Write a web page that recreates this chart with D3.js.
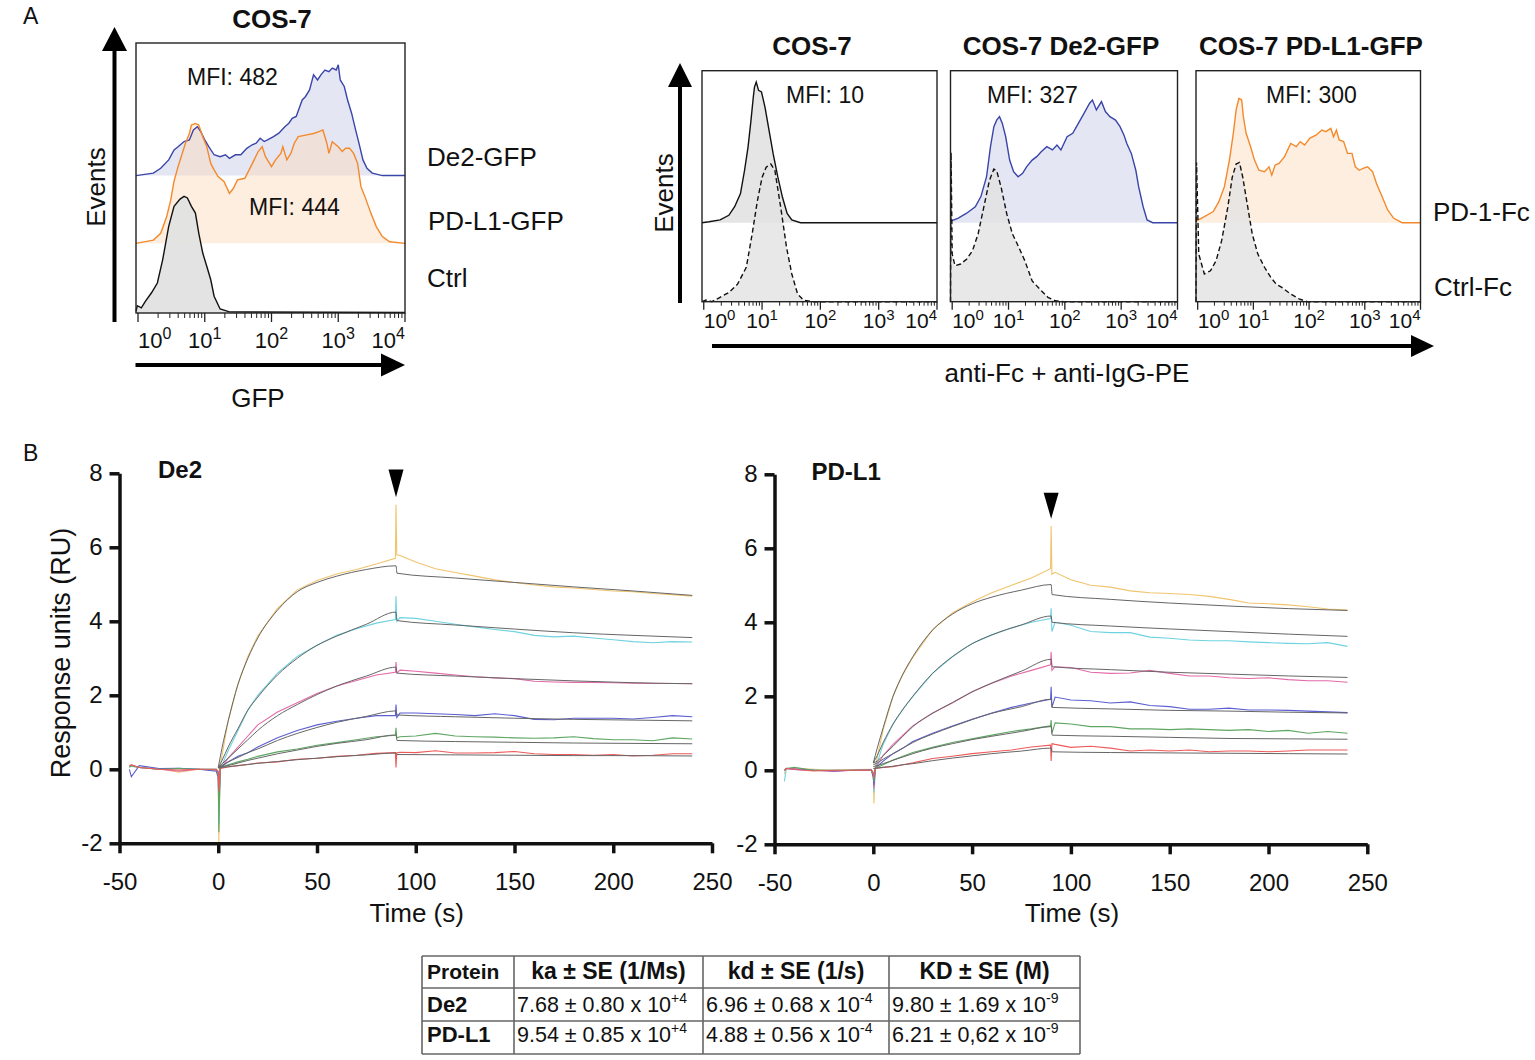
<!DOCTYPE html>
<html lang="en">
<head>
<meta charset="UTF-8">
<title>COS-7 binding figure</title>
<script src="https://d3js.org/d3.v7.min.js"></script>
<style>
body { margin: 0; background: #fff; }
svg text { font-family: "Liberation Sans", Arial, sans-serif; fill: #111; }
</style>
</head>
<body>
<svg id="fig" width="1535" height="1060"></svg>
<script>
// ---------------- data ----------------
// flow histograms: [log10 fluorescence, events (% of box height)]
var gfpDe2 = [[-0.03,0],[0.23,0.9],[0.34,2.7],[0.46,5.8],[0.54,9.5],[0.6,10.7],[0.69,12.6],[0.77,13.2],[0.83,16.9],[0.89,18.1],[0.94,16.3],[1.0,13.2],[1.06,10.7],[1.14,7.7],[1.23,7.0],[1.31,7.7],[1.37,6.4],[1.46,7.7],[1.54,7.7],[1.63,10.1],[1.71,11.4],[1.77,12],[1.83,13.8],[1.89,12.6],[1.94,13.2],[2.03,14.4],[2.11,15.7],[2.2,18.1],[2.26,19.4],[2.31,21.2],[2.37,21.9],[2.46,28],[2.51,29.3],[2.57,31.7],[2.63,37.3],[2.69,35.4],[2.74,37.3],[2.8,39.1],[2.86,38.5],[2.91,39.8],[2.97,39.1],[3.0,41],[3.03,35.4],[3.09,33],[3.14,28],[3.2,23.1],[3.26,16.9],[3.31,12],[3.37,5.8],[3.43,2.7],[3.51,0.9],[3.66,0],[4.0,0]];
var gfpPdl1 = [[-0.03,0],[0.23,1.2],[0.34,3.7],[0.43,9.9],[0.49,16],[0.54,23],[0.6,28.4],[0.71,37],[0.77,40.7],[0.8,43.8],[0.86,44.4],[0.91,43.8],[0.97,39.5],[1.03,35.8],[1.09,29.6],[1.14,27.2],[1.2,24.7],[1.29,22.8],[1.37,18.5],[1.43,20.4],[1.49,23.5],[1.6,24.1],[1.69,28.4],[1.74,30.9],[1.8,34],[1.86,35.8],[1.91,32.1],[2.0,28.4],[2.06,30.9],[2.14,33.3],[2.17,35.8],[2.23,30.9],[2.29,33.3],[2.34,37],[2.4,39.5],[2.51,40.1],[2.63,40.7],[2.71,41.4],[2.77,42],[2.83,37],[2.86,33.3],[2.91,37.6],[3.0,35.8],[3.06,34],[3.11,35.2],[3.17,35.2],[3.23,33.3],[3.29,29.6],[3.34,21],[3.4,17.3],[3.49,11.1],[3.57,6.2],[3.66,2.5],[3.77,0.6],[4.0,0]];
var gfpCtrl = [[-0.03,0.6],[-0.01,2.7],[0.05,1.9],[0.11,4.3],[0.2,7.4],[0.29,11.1],[0.37,19.8],[0.46,32.1],[0.54,39.5],[0.63,42.2],[0.69,43.2],[0.74,42.6],[0.8,39.5],[0.86,37],[0.91,29.6],[0.97,22.2],[1.03,17.3],[1.09,12.3],[1.14,6.2],[1.23,1.5],[1.37,0.4],[4.0,0.2]];

var fcCos7Pd1 = [[-0.03,0],[0.09,0.4],[0.28,1.2],[0.43,3.2],[0.53,6.9],[0.63,12.6],[0.7,22.7],[0.76,32.8],[0.81,44.3],[0.85,54.4],[0.87,58.7],[0.9,60.9],[0.94,57.3],[0.99,56.6],[1.05,50],[1.12,40],[1.19,29.9],[1.27,19.8],[1.35,11],[1.43,4],[1.51,1.2],[1.66,0],[4.0,0]];
var fcCos7Ctrl = [[-0.03,0],[0.04,0.7],[0.14,0],[0.28,1.9],[0.43,4],[0.58,7.6],[0.73,14.9],[0.83,29.3],[0.92,43.7],[1.0,53.8],[1.07,58.2],[1.15,59.6],[1.22,56.8],[1.32,40.8],[1.42,23.5],[1.51,12],[1.61,3.3],[1.71,0.7],[1.86,0],[4.0,0]];
var fcDe2Pd1 = [[-0.03,0.7],[0.1,1.9],[0.25,4],[0.41,6.9],[0.51,11.3],[0.61,19.9],[0.68,32.9],[0.74,41.6],[0.79,44.4],[0.84,45.9],[0.89,43],[0.95,37.2],[1.02,27.1],[1.09,22.1],[1.17,19.9],[1.25,21.4],[1.32,24.2],[1.42,27.1],[1.5,28.6],[1.58,30.7],[1.68,32.9],[1.78,31.5],[1.86,33.6],[1.93,31.5],[2.04,37.2],[2.14,38.7],[2.24,43],[2.34,47.3],[2.44,51.7],[2.49,53.1],[2.56,48.8],[2.65,52.4],[2.72,48.1],[2.8,45.9],[2.9,44.4],[2.98,41.6],[3.05,37.9],[3.1,34.3],[3.18,30],[3.26,22.7],[3.31,15.6],[3.39,6.9],[3.46,1.2],[3.56,0],[4.0,0]];
var fcDe2Ctrl = [[-0.03,0],[-0.02,64.6],[0.0,20.6],[0.05,15.6],[0.15,16.3],[0.26,18.5],[0.36,22.1],[0.46,29.3],[0.56,40.8],[0.66,52.4],[0.74,57.4],[0.79,56.7],[0.87,49.4],[0.97,37.9],[1.07,29.3],[1.17,24.2],[1.29,17.7],[1.42,9],[1.58,4.8],[1.7,1.9],[1.83,0.4],[1.98,0],[4.0,0]];
var fcPdl1Pd1 = [[-0.03,0.7],[0.12,2.6],[0.28,4.8],[0.38,9.1],[0.48,15.6],[0.57,27.1],[0.64,38.7],[0.69,48.8],[0.74,53.8],[0.79,53.1],[0.82,45.9],[0.87,38.7],[0.95,32.9],[1.02,27.1],[1.1,22.7],[1.2,22.1],[1.28,24.2],[1.33,20.6],[1.39,24.9],[1.46,25.7],[1.56,28.6],[1.67,34.3],[1.77,32.9],[1.84,35.1],[1.92,33.6],[2.01,36.5],[2.13,38],[2.23,40.1],[2.3,39.4],[2.39,40.8],[2.44,37.2],[2.49,40.1],[2.54,35.8],[2.62,35.1],[2.69,30],[2.77,30],[2.83,24.2],[2.9,22.7],[2.97,23.5],[3.05,24.2],[3.14,22.1],[3.21,17],[3.31,11.3],[3.41,5.5],[3.52,1.9],[3.67,0],[4.0,0]];
var fcPdl1Ctrl = [[-0.03,0],[-0.02,60.3],[0.02,20.6],[0.12,12],[0.23,13.4],[0.33,17.7],[0.43,26.4],[0.54,40.8],[0.62,53.8],[0.69,59.6],[0.75,60.3],[0.81,53.8],[0.9,40.8],[0.98,29.3],[1.08,20.6],[1.2,14.9],[1.31,10.6],[1.41,7.6],[1.51,6.2],[1.67,3.3],[1.82,1.2],[1.97,0],[4.0,0]];

var decades = [0, 1, 2, 3, 4];

// SPR sensorgrams (RU)
var sprTime = [-45,-44,-40,-30,-20,-10,-1, 0,0.3,1,5,10,15,20,30,40,50,60,70,80, 89.7,90,90.4,92, 100,110,120,130,140,150,160,170,180,190,200,210,220,230,240];
var de2Yellow  = [0.05,0.1,0.05,0.02,-0.08,0,-0.03, -0.3,-2.0,0.1,1.3,2.3,3.05,3.6,4.35,4.85,5.1,5.28,5.4,5.55, 5.7,7.15,5.8,5.78, 5.6,5.42,5.32,5.22,5.12,5.05,4.98,4.93,4.9,4.86,4.82,4.8,4.75,4.72,4.68];
var de2Cyan    = [0.1,0.08,0.05,0,0.03,0,0, -0.2,-1.5,0,0.5,1.05,1.6,2.0,2.6,3.05,3.35,3.62,3.8,3.95, 4.05,4.68,4.0,4.1, 4.08,4.0,3.92,3.85,3.78,3.72,3.62,3.58,3.6,3.55,3.5,3.45,3.42,3.45,3.44];
var de2Magenta = [0.08,0.12,0.05,0,-0.05,0,-0.02, -0.1,-1.0,0,0.3,0.6,0.9,1.2,1.55,1.8,2.05,2.25,2.4,2.55, 2.62,2.9,2.6,2.68, 2.65,2.6,2.55,2.5,2.47,2.45,2.38,2.36,2.35,2.35,2.34,2.33,2.32,2.32,2.32];
var de2Blue    = [0,-0.2,0.1,0.02,0.03,0,-0.05, -0.2,-1.0,0.05,0.2,0.35,0.45,0.6,0.85,1.05,1.2,1.3,1.38,1.45, 1.45,1.75,1.4,1.52, 1.52,1.5,1.48,1.45,1.5,1.45,1.35,1.34,1.38,1.38,1.38,1.36,1.4,1.45,1.42];
var de2Green   = [0.05,0.1,0.05,0,0.02,0,0, -0.1,-1.7,0.05,0.12,0.2,0.27,0.35,0.47,0.55,0.65,0.72,0.8,0.88, 0.92,1.12,0.85,0.88, 0.9,0.97,0.9,0.88,0.87,0.85,0.84,0.85,0.88,0.83,0.8,0.8,0.77,0.85,0.82];
var de2Red     = [0.1,0.12,0.05,0,-0.02,0,0, -0.05,-0.6,0.02,0.06,0.1,0.13,0.17,0.2,0.27,0.3,0.35,0.38,0.43, 0.45,0.05,0.45,0.46, 0.45,0.5,0.44,0.44,0.45,0.48,0.42,0.4,0.4,0.38,0.4,0.36,0.38,0.42,0.42];

var pdl1Yellow  = [-0.1,0.05,0.05,0.03,0,0.02,0.03, -0.1,-0.9,0.1,1.1,2.0,2.6,3.05,3.8,4.25,4.55,4.8,5.0,5.2, 5.45,6.6,5.3,5.35, 5.15,5.0,4.95,4.85,4.8,4.78,4.75,4.7,4.62,4.52,4.5,4.47,4.42,4.36,4.33];
var pdl1Cyan    = [-0.3,0.05,0.05,0,0,0,0.02, -0.1,-0.6,0.05,0.7,1.25,1.65,2.0,2.62,3.07,3.43,3.66,3.85,4.0, 4.1,4.38,3.75,4.0, 3.92,3.75,3.72,3.72,3.6,3.57,3.52,3.5,3.5,3.47,3.45,3.43,3.42,3.45,3.35];
var pdl1Magenta = [0,0.05,0.05,0,-0.03,0,0.02, -0.1,-0.5,0.05,0.4,0.7,0.95,1.2,1.55,1.82,2.12,2.35,2.55,2.7, 2.85,3.2,2.7,2.8, 2.78,2.65,2.62,2.63,2.7,2.62,2.55,2.55,2.5,2.48,2.5,2.45,2.42,2.42,2.38];
var pdl1Blue    = [0,0.05,0.02,0,-0.02,0,0, -0.2,-0.4,0.05,0.25,0.45,0.6,0.78,1.0,1.2,1.38,1.55,1.7,1.82, 1.92,2.26,1.7,1.98, 1.9,1.88,1.82,1.85,1.75,1.72,1.65,1.65,1.68,1.63,1.63,1.62,1.6,1.58,1.56];
var pdl1Green   = [0,0.05,0.08,0,0,0,0, -0.1,-0.3,0.05,0.15,0.28,0.38,0.48,0.62,0.75,0.85,0.95,1.05,1.12, 1.2,1.36,1.0,1.28, 1.25,1.18,1.18,1.12,1.12,1.1,1.12,1.1,1.08,1.1,1.05,1.08,1.0,1.05,1.0];
var pdl1Red     = [0,0.05,0.02,-0.02,0,0,0, -0.05,-0.2,0.05,0.08,0.1,0.15,0.2,0.32,0.38,0.45,0.5,0.55,0.63, 0.68,0.25,0.72,0.7, 0.62,0.65,0.6,0.52,0.55,0.52,0.55,0.5,0.52,0.52,0.5,0.52,0.55,0.55,0.55];

// 1:1 Langmuir fits
var sprFitTime = [0,2,5,10,15,20,30,40,50,60,75,90,90.5,120,150,180,210,240];
var de2FitYellow  = [0.05,0.6,1.3,2.3,3.0,3.55,4.3,4.8,5.05,5.22,5.4,5.5,5.3,5.17,5.05,4.93,4.82,4.7];
var de2FitCyan    = [0.05,0.25,0.6,1.1,1.6,1.95,2.55,3.0,3.35,3.6,3.92,4.25,4.02,3.9,3.79,3.69,3.62,3.56];
var de2FitMagenta = [0.05,0.15,0.3,0.55,0.8,1.05,1.45,1.75,2.02,2.25,2.52,2.76,2.6,2.52,2.45,2.39,2.34,2.31];
var de2FitBlue    = [0.05,0.1,0.2,0.32,0.45,0.55,0.78,0.97,1.13,1.27,1.43,1.58,1.47,1.42,1.38,1.35,1.33,1.31];
var de2FitGreen   = [0.05,0.07,0.1,0.17,0.24,0.3,0.42,0.52,0.62,0.7,0.8,0.93,0.78,0.75,0.73,0.71,0.7,0.69];
var de2FitRed     = [0.03,0.05,0.07,0.1,0.13,0.16,0.21,0.26,0.3,0.34,0.39,0.44,0.4,0.39,0.38,0.37,0.37,0.36];
var pdl1FitYellow  = [0.2,0.6,1.15,2.0,2.6,3.07,3.79,4.22,4.5,4.68,4.87,5.02,4.75,4.62,4.52,4.44,4.37,4.32];
var pdl1FitCyan    = [0.2,0.4,0.75,1.25,1.65,2.0,2.62,3.07,3.42,3.66,3.93,4.17,4.0,3.9,3.82,3.75,3.68,3.62];
var pdl1FitMagenta = [0.2,0.25,0.4,0.65,0.92,1.18,1.54,1.83,2.12,2.36,2.68,3.0,2.8,2.72,2.65,2.6,2.55,2.51];
var pdl1FitBlue    = [0.15,0.2,0.3,0.45,0.6,0.75,0.98,1.18,1.37,1.54,1.72,1.92,1.7,1.66,1.62,1.6,1.57,1.55];
var pdl1FitGreen   = [0.1,0.13,0.18,0.27,0.36,0.45,0.6,0.72,0.83,0.92,1.05,1.18,0.95,0.92,0.89,0.86,0.85,0.84];
var pdl1FitRed     = [0.05,0.06,0.08,0.11,0.15,0.18,0.26,0.33,0.39,0.45,0.52,0.6,0.5,0.48,0.47,0.46,0.45,0.44];

var sprColors = ["#f0c46e", "#6fd2e0", "#e36aa9", "#5c5fd0", "#5fa663", "#ee5a5a"];

// kinetics table
var tableHead = ["Protein", "ka \u00b1 SE (1/Ms)", "kd \u00b1 SE (1/s)", "KD \u00b1 SE (M)"];
var tableProteins = ["De2", "PD-L1"];
var tableValues = [
  [["7.68 \u00b1 0.80 x 10", "+4"], ["6.96 \u00b1 0.68 x 10", "-4"], ["9.80 \u00b1 1.69 x 10", "-9"]],
  [["9.54 \u00b1 0.85 x 10", "+4"], ["4.88 \u00b1 0.56 x 10", "-4"], ["6.21 \u00b1 0,62 x 10", "-9"]]
];

// ---------------- drawing ----------------
var svg = d3.select("#fig");
svg.append("rect").attr("width", 1535).attr("height", 1060).attr("fill", "#fff");

function label(x, y, s, size, anchor, bold) {
  return svg.append("text")
    .attr("x", x).attr("y", y)
    .attr("text-anchor", anchor || "start")
    .style("font-size", size + "px")
    .style("font-weight", bold ? "bold" : "normal")
    .text(s);
}

function vlabel(x, y, s, size) {
  svg.append("text")
    .attr("transform", "translate(" + x + "," + y + ") rotate(-90)")
    .attr("text-anchor", "middle")
    .style("font-size", size + "px")
    .text(s);
}

function arrowUp(x, yTip, yBot, headW, headH) {
  svg.append("line").attr("x1", x).attr("x2", x).attr("y1", yBot).attr("y2", yTip + headH - 1)
    .attr("stroke", "#000").attr("stroke-width", 4);
  svg.append("path").attr("d", "M" + (x - headW / 2) + "," + (yTip + headH) + "L" + (x + headW / 2) + "," + (yTip + headH) + "L" + x + "," + yTip + "Z")
    .attr("fill", "#000");
}

function arrowRight(y, xStart, xTip, headL, headH) {
  svg.append("line").attr("x1", xStart).attr("x2", xTip - headL + 1).attr("y1", y).attr("y2", y)
    .attr("stroke", "#000").attr("stroke-width", 4);
  svg.append("path").attr("d", "M" + (xTip - headL) + "," + (y - headH / 2) + "L" + (xTip - headL) + "," + (y + headH / 2) + "L" + xTip + "," + y + "Z")
    .attr("fill", "#000");
}

// 10^n label with superscript
function powText(g, x, y, base, sup, size, supSize, anchor) {
  var t = g.append("text").attr("x", x).attr("y", y)
    .attr("text-anchor", anchor || "middle")
    .style("font-size", size + "px");
  t.append("tspan").text(base);
  t.append("tspan").attr("dy", -0.4 * size).style("font-size", supSize + "px").text(sup);
  return t;
}

// a flow-cytometry box with log x axis
function flowBox(x0, x1, yTop, yBot, majorLen, minorLen, labY, labSize, supSize) {
  var g = svg.append("g");
  var x = d3.scaleLog().domain([Math.pow(10, -0.03), 1e4]).range([x0, x1]);
  var y = d3.scaleLinear().domain([0, 100]).range([yBot, yTop]);
  var minor = [];
  for (var d = 0; d < 4; d++) for (var k = 2; k < 10; k++) minor.push(k * Math.pow(10, d));
  g.selectAll(null).data(minor).join("line")
    .attr("x1", function(v) { return x(v); }).attr("x2", function(v) { return x(v); })
    .attr("y1", yBot).attr("y2", yBot + minorLen)
    .attr("stroke", "#222").attr("stroke-width", 1);
  g.selectAll(null).data(decades).join("line")
    .attr("x1", function(v) { return x(Math.pow(10, v)); }).attr("x2", function(v) { return x(Math.pow(10, v)); })
    .attr("y1", yBot).attr("y2", yBot + majorLen)
    .attr("stroke", "#222").attr("stroke-width", 1.3);
  decades.forEach(function(v, i) {
    var anchor = i === 0 ? "start" : (i === decades.length - 1 ? "end" : "middle");
    powText(g, x(Math.pow(10, v)), labY, "10", String(v), labSize, supSize, anchor);
  });
  return {g: g, x: x, y: y, x0: x0, x1: x1, yTop: yTop, yBot: yBot};
}

function histArea(box, pts, base) {
  return d3.area()
    .x(function(d) { return box.x(Math.pow(10, d[0])); })
    .y0(box.y(base))
    .y1(function(d) { return box.y(d[1] + base); })(pts);
}
function histLine(box, pts, base) {
  return d3.line()
    .x(function(d) { return box.x(Math.pow(10, d[0])); })
    .y(function(d) { return box.y(d[1] + base); })(pts);
}

var blueLine = "#3a45a8", blueFill = "#c9cdea";
var orangeLine = "#f4892c", orangeFill = "#fcd9b8";
var greyFill = "#e2e2e2";

// ---- Panel A left ----
label(23, 24, "A", 23);
label(272, 28, "COS-7", 26, "middle", true);
var bA = flowBox(136, 405, 43, 313, 9, 5, 348, 22, 16);
var hists = [
  {pts: gfpDe2, base: 50.9, fill: blueFill, fo: 0.5, line: blueLine},
  {pts: gfpPdl1, base: 25.8, fill: orangeFill, fo: 0.45, line: orangeLine},
  {pts: gfpCtrl, base: 0, fill: greyFill, fo: 0.95, line: "#111"}
];
hists.forEach(function(h) {
  bA.g.append("path").attr("d", histArea(bA, h.pts, h.base)).attr("fill", h.fill).attr("fill-opacity", h.fo);
});
hists.forEach(function(h) {
  bA.g.append("path").attr("d", histLine(bA, h.pts, h.base)).attr("fill", "none")
    .attr("stroke", h.line).attr("stroke-width", 1.4);
});
bA.g.append("rect").attr("x", 136).attr("y", 43).attr("width", 269).attr("height", 270)
  .attr("fill", "none").attr("stroke", "#222").attr("stroke-width", 1.4);
arrowUp(114.5, 27, 322, 25, 24);
arrowRight(365, 135.5, 405, 24, 23);
vlabel(105, 187, "Events", 26);
label(258, 407, "GFP", 26, "middle");
label(187, 85, "MFI: 482", 23);
label(249, 215, "MFI: 444", 23);
label(427, 166, "De2-GFP", 26);
label(428, 230, "PD-L1-GFP", 26);
label(427, 287, "Ctrl", 26);

// ---- Panel A right ----
var fcPanels = [
  {title: "COS-7", tx: 812, x0: 702, x1: 937, pd1: fcCos7Pd1, ctrl: fcCos7Ctrl, line: "#111", fill: greyFill, fo: 0.9, mfi: "MFI: 10", mx: 786},
  {title: "COS-7 De2-GFP", tx: 1061, x0: 950.5, x1: 1177.5, pd1: fcDe2Pd1, ctrl: fcDe2Ctrl, line: blueLine, fill: blueFill, fo: 0.5, mfi: "MFI: 327", mx: 987},
  {title: "COS-7 PD-L1-GFP", tx: 1311, x0: 1196, x1: 1420.5, pd1: fcPdl1Pd1, ctrl: fcPdl1Ctrl, line: orangeLine, fill: orangeFill, fo: 0.45, mfi: "MFI: 300", mx: 1266}
];
fcPanels.forEach(function(p) {
  var b = flowBox(p.x0, p.x1, 70.7, 301.7, 8, 4, 328, 21, 15);
  b.g.append("path").attr("d", histArea(b, p.pd1, 34.2)).attr("fill", p.fill).attr("fill-opacity", p.fo);
  b.g.append("path").attr("d", histArea(b, p.ctrl, 0)).attr("fill", greyFill).attr("fill-opacity", 0.8);
  b.g.append("path").attr("d", histLine(b, p.pd1, 34.2)).attr("fill", "none")
    .attr("stroke", p.line).attr("stroke-width", 1.4);
  b.g.append("path").attr("d", histLine(b, p.ctrl, 0)).attr("fill", "none")
    .attr("stroke", "#111").attr("stroke-width", 1.4).attr("stroke-dasharray", "5,3");
  b.g.append("rect").attr("x", p.x0).attr("y", 70.7).attr("width", p.x1 - p.x0).attr("height", 231)
    .attr("fill", "none").attr("stroke", "#222").attr("stroke-width", 1.4);
  label(p.tx, 55, p.title, 26, "middle", true);
  label(p.mx, 103, p.mfi, 23);
});
arrowUp(680, 63, 303, 24, 24);
arrowRight(346, 712, 1434, 23, 22);
vlabel(673, 193, "Events", 26);
label(1067, 382, "anti-Fc + anti-IgG-PE", 26, "middle");
label(1433, 221, "PD-1-Fc", 26);
label(1434, 296, "Ctrl-Fc", 26);

// ---- Panel B ----
label(23, 461, "B", 23);
var sprPanels = [
  {title: "De2", titleX: 158, titleY: 478, x0: 119.5, x1: 712, yTop: 473.3, yBot: 843.3,
   data: [de2Yellow, de2Cyan, de2Magenta, de2Blue, de2Green, de2Red],
   fits: [de2FitYellow, de2FitCyan, de2FitMagenta, de2FitBlue, de2FitGreen, de2FitRed],
   arrow: [8.1, 7.35], yTitle: true},
  {title: "PD-L1", titleX: 811.5, titleY: 480, x0: 774.5, x1: 1367.3, yTop: 474.3, yBot: 844.3,
   data: [pdl1Yellow, pdl1Cyan, pdl1Magenta, pdl1Blue, pdl1Green, pdl1Red],
   fits: [pdl1FitYellow, pdl1FitCyan, pdl1FitMagenta, pdl1FitBlue, pdl1FitGreen, pdl1FitRed],
   arrow: [7.5, 6.8], yTitle: false}
];
var plainNum = function(v) { return String(v); };   // keep hyphen minus like the original
sprPanels.forEach(function(p) {
  var x = d3.scaleLinear().domain([-50, 250]).range([p.x0, p.x1]);
  var y = d3.scaleLinear().domain([-2, 8]).range([p.yBot, p.yTop]);
  var g = svg.append("g");

  var dataLine = d3.line().x(function(d, i) { return x(sprTime[i]); }).y(function(d) { return y(d); });
  p.data.forEach(function(s, i) {
    g.append("path").attr("d", dataLine(s)).attr("fill", "none")
      .attr("stroke", sprColors[i]).attr("stroke-width", 1.1);
  });
  var fitLine = d3.line().curve(d3.curveMonotoneX)
    .x(function(d, i) { return x(sprFitTime[i]); }).y(function(d) { return y(d); });
  p.fits.forEach(function(s) {
    g.append("path").attr("d", fitLine(s)).attr("fill", "none")
      .attr("stroke", "#666").attr("stroke-width", 1);
  });

  var ax = g.append("g").attr("transform", "translate(0," + p.yBot + ")")
    .call(d3.axisBottom(x).tickValues([-50, 0, 50, 100, 150, 200, 250]).tickFormat(plainNum)
      .tickSize(10).tickSizeOuter(0).tickPadding(20));
  var ay = g.append("g").attr("transform", "translate(" + p.x0 + ",0)")
    .call(d3.axisLeft(y).tickValues([-2, 0, 2, 4, 6, 8]).tickFormat(plainNum)
      .tickSize(10).tickSizeOuter(0).tickPadding(7));
  [ax, ay].forEach(function(a) {
    a.attr("font-family", null).attr("font-size", null);
    a.selectAll("path, line").attr("stroke", "#111").attr("stroke-width", 3.5);
    a.selectAll("text").style("font-size", "24px").attr("fill", "#111");
  });

  // injection stop marker
  var ax90 = x(90);
  g.append("path").attr("d", "M" + (ax90 - 7.5) + "," + y(p.arrow[0]) + "L" + (ax90 + 7.5) + "," + y(p.arrow[0]) + "L" + ax90 + "," + y(p.arrow[1]) + "Z")
    .attr("fill", "#000");

  label(p.titleX, p.titleY, p.title, 24, "start", true);
  label((p.x0 + p.x1) / 2 + 1, 922, "Time (s)", 26, "middle");
  if (p.yTitle) vlabel(70, 653, "Response units (RU)", 27);
});

// ---- Table ----
var colX = [422, 514, 703, 889, 1080];
var rowY = [956, 988, 1021, 1054];
var tg = svg.append("g");
colX.forEach(function(cx) {
  tg.append("line").attr("x1", cx).attr("x2", cx).attr("y1", rowY[0]).attr("y2", rowY[3])
    .attr("stroke", "#666").attr("stroke-width", 1.6);
});
rowY.forEach(function(ry) {
  tg.append("line").attr("x1", colX[0]).attr("x2", colX[4]).attr("y1", ry).attr("y2", ry)
    .attr("stroke", "#666").attr("stroke-width", 1.6);
});
label(427, 979, tableHead[0], 21, "start", true);
for (var c = 1; c < 4; c++) label((colX[c] + colX[c + 1]) / 2, 979, tableHead[c], 23, "middle", true);
var rowBase = [1012, 1042];
tableProteins.forEach(function(pr, r) {
  label(427, rowBase[r], pr, 22, "start", true);
  tableValues[r].forEach(function(v, c) {
    powText(tg, colX[c + 1] + 3, rowBase[r], v[0], v[1], 21.5, 14, "start");
  });
});
</script>
</body>
</html>
